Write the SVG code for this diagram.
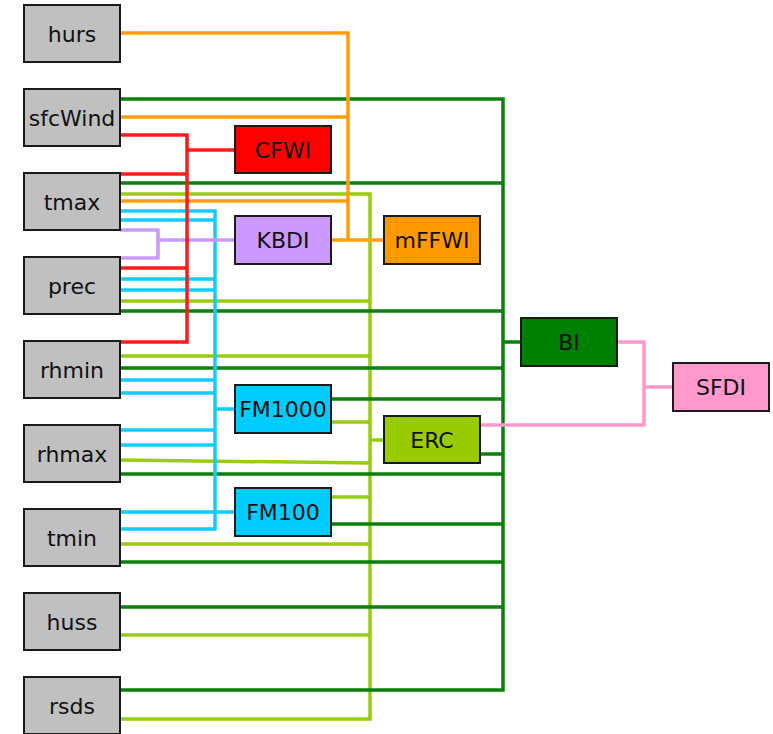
<svg xmlns="http://www.w3.org/2000/svg" width="773" height="734" viewBox="0 0 773 734">
<style>
  .box { stroke: #1a1a1a; stroke-width: 2; }
  .in { fill: #c0c0c0; }
  .lbl { font-family: "DejaVu Sans", "Liberation Sans", sans-serif; font-size: 22px; fill: #111; text-anchor: middle; }
  .c { fill: none; stroke-width: 3.5; stroke-linejoin: miter; stroke-linecap: butt; }
  .red { stroke: #ff1a1a; }
  .grn { stroke: #0a800a; }
  .yg { stroke: #99cc11; }
  .org { stroke: #ff9d0a; }
  .cyn { stroke: #11ccff; }
  .pur { stroke: #cc99ff; }
  .pnk { stroke: #ff99cc; }
</style>
<rect width="773" height="734" fill="#ffffff"/>
<g id="connectors">
  <g class="c yg">
    <path d="M120,194 H370 V719 H120"/>
    <path d="M120,301 H370"/>
    <path d="M120,356 H370"/>
    <path d="M120,460 L370,463"/>
    <path d="M120,544 H370"/>
    <path d="M120,635 H370"/>
    <path d="M331,422 H370"/>
    <path d="M331,497 H370"/>
    <path d="M370,440 H384"/>
  </g>
  <g class="c grn">
    <path d="M120,99 H503 V690 H120"/>
    <path d="M120,183 H503"/>
    <path d="M120,311 H503"/>
    <path d="M120,368 H503"/>
    <path d="M120,474 H503"/>
    <path d="M120,562 H503"/>
    <path d="M120,607 H503"/>
    <path d="M331,399 H503"/>
    <path d="M331,524 H503"/>
    <path d="M480,454 H503"/>
    <path d="M503,342 H521"/>
  </g>
  <g class="c org">
    <path d="M120,33 H348 V240"/>
    <path d="M120,117 H348"/>
    <path d="M120,201 H348"/>
    <path d="M331,240 H384"/>
  </g>
  <g class="c cyn">
    <path d="M120,211 H215 V529 H120"/>
    <path d="M120,220 H215"/>
    <path d="M120,279 H215"/>
    <path d="M120,290 H215"/>
    <path d="M120,380 H215"/>
    <path d="M120,393 H215"/>
    <path d="M120,430 H215"/>
    <path d="M120,445 H215"/>
    <path d="M120,512 H235"/>
    <path d="M215,409 H235"/>
  </g>
  <g class="c pur">
    <path d="M120,230 H158 V258 H120"/>
    <path d="M158,240 H235"/>
  </g>
  <g class="c red">
    <path d="M120,135 H187 V342 H120"/>
    <path d="M120,174 H187"/>
    <path d="M120,268 H187"/>
    <path d="M187,150 H235"/>
  </g>
  <g class="c pnk">
    <path d="M617,342 H644 V425 H480"/>
    <path d="M644,387 H673"/>
  </g>
</g>
<g id="hurs"><rect class="box in" x="24" y="5" width="96" height="57"/><text class="lbl" x="72" y="41.5">hurs</text></g>
<g id="sfcWind"><rect class="box in" x="24" y="89" width="96" height="57"/><text class="lbl" x="72" y="125.5">sfcWind</text></g>
<g id="tmax"><rect class="box in" x="24" y="173" width="96" height="57"/><text class="lbl" x="72" y="209.5">tmax</text></g>
<g id="prec"><rect class="box in" x="24" y="257" width="96" height="57"/><text class="lbl" x="72" y="293.5">prec</text></g>
<g id="rhmin"><rect class="box in" x="24" y="341" width="96" height="57"/><text class="lbl" x="72" y="377.5">rhmin</text></g>
<g id="rhmax"><rect class="box in" x="24" y="425" width="96" height="57"/><text class="lbl" x="72" y="461.5">rhmax</text></g>
<g id="tmin"><rect class="box in" x="24" y="509" width="96" height="57"/><text class="lbl" x="72" y="545.5">tmin</text></g>
<g id="huss"><rect class="box in" x="24" y="593" width="96" height="57"/><text class="lbl" x="72" y="629.5">huss</text></g>
<g id="rsds"><rect class="box in" x="24" y="677" width="96" height="57"/><text class="lbl" x="72" y="713.5">rsds</text></g>
<g id="CFWI"><rect class="box" fill="#ff0000" x="235" y="126" width="96" height="47"/><text class="lbl" x="283" y="157.5">CFWI</text></g>
<g id="KBDI"><rect class="box" fill="#cc99ff" x="235" y="216" width="96" height="48"/><text class="lbl" x="283" y="248">KBDI</text></g>
<g id="mFFWI"><rect class="box" fill="#ff9900" x="384" y="216" width="96" height="48"/><text class="lbl" x="432" y="248">mFFWI</text></g>
<g id="FM1000"><rect class="box" fill="#00ccff" x="235" y="385" width="96" height="48"/><text class="lbl" x="283" y="417">FM1000</text></g>
<g id="FM100"><rect class="box" fill="#00ccff" x="235" y="488" width="96" height="48"/><text class="lbl" x="283" y="520">FM100</text></g>
<g id="ERC"><rect class="box" fill="#99cc00" x="384" y="416" width="96" height="47"/><text class="lbl" x="432" y="447.5">ERC</text></g>
<g id="BI"><rect class="box" fill="#008000" x="521" y="318" width="96" height="48"/><text class="lbl" x="569" y="350">BI</text></g>
<g id="SFDI"><rect class="box" fill="#ff99cc" x="673" y="363" width="96" height="48"/><text class="lbl" x="721" y="395">SFDI</text></g>
</svg>
